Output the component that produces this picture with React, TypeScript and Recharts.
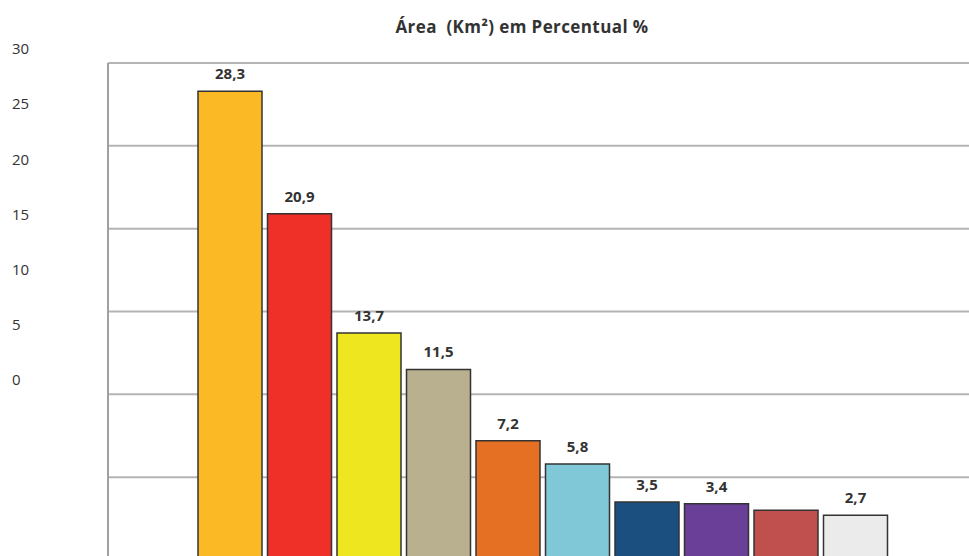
import React from "react"
import { BarChart, Bar, Cell, XAxis, YAxis, CartesianGrid, LabelList } from "recharts"

const categories = ["A", "B", "C", "D", "E", "F", "G", "H", "I", "J"]
const values = [28.3, 20.9, 13.7, 11.5, 7.2, 5.8, 3.5, 3.4, 3.0, 2.7]
// the 9th bar carries no visible label in the source
const valueLabels = ["28,3", "20,9", "13,7", "11,5", "7,2", "5,8", "3,5", "3,4", "", "2,7"]
const colors = [
  "#fbba25", "#ee3028", "#eee61e", "#b8b08e", "#e57024",
  "#80c8d8", "#1b4f80", "#6a3f97", "#c0504d", "#ebebeb",
]
const yTicks = [0, 5, 10, 15, 20, 25, 30]

const data = categories.map((name, i) => ({ name, value: values[i], label: valueLabels[i] }))

const FONT = "'Open Sans', sans-serif"

// y labels in the source sit on a squeezed scale, offset from the gridlines
function YTick(props: any) {
  const { y, payload } = props
  const top = 63
  const ty = 49 + (y - top) * (331 / 497)
  return (
    <text x={12} y={ty} dy="0.35em" textAnchor="start" fontSize={15} fill="#333" fontFamily={FONT}>
      {payload.value}
    </text>
  )
}

export default function App() {
  return (
    <div style={{ position: "absolute", left: 0, top: 0, width: 969, height: 556, overflow: "hidden", background: "#fff" }}>
      <div
        style={{
          position: "absolute", top: 15, left: 0, width: 1044, textAlign: "center", whiteSpace: "pre",
          fontFamily: FONT, fontWeight: 700, fontSize: 17, letterSpacing: 0.4, color: "#333",
        }}
      >
        Área  (Km²) em Percentual %
      </div>
      <BarChart width={969} height={580} data={data} margin={{ top: 63, right: 0, bottom: 20, left: 0 }} barCategoryGap={3}>
        <CartesianGrid vertical={false} stroke="#b4b4b4" strokeWidth={2} />
        <XAxis dataKey="name" hide padding={{ left: 87, right: 79 }} />
        <YAxis
          width={108}
          domain={[0, 30]}
          ticks={yTicks}
          tickLine={false}
          axisLine={{ stroke: "#a0a0a0", strokeWidth: 2 }}
          tick={<YTick />}
        />
        <Bar dataKey="value" stroke="#333" strokeWidth={1.5} isAnimationActive={false}>
          {data.map((d, i) => (
            <Cell key={i} fill={colors[i]} />
          ))}
          <LabelList dataKey="label" position="top" offset={12} fontSize={15} fontWeight={700} fill="#333" fontFamily={FONT} />
        </Bar>
      </BarChart>
    </div>
  )
}
